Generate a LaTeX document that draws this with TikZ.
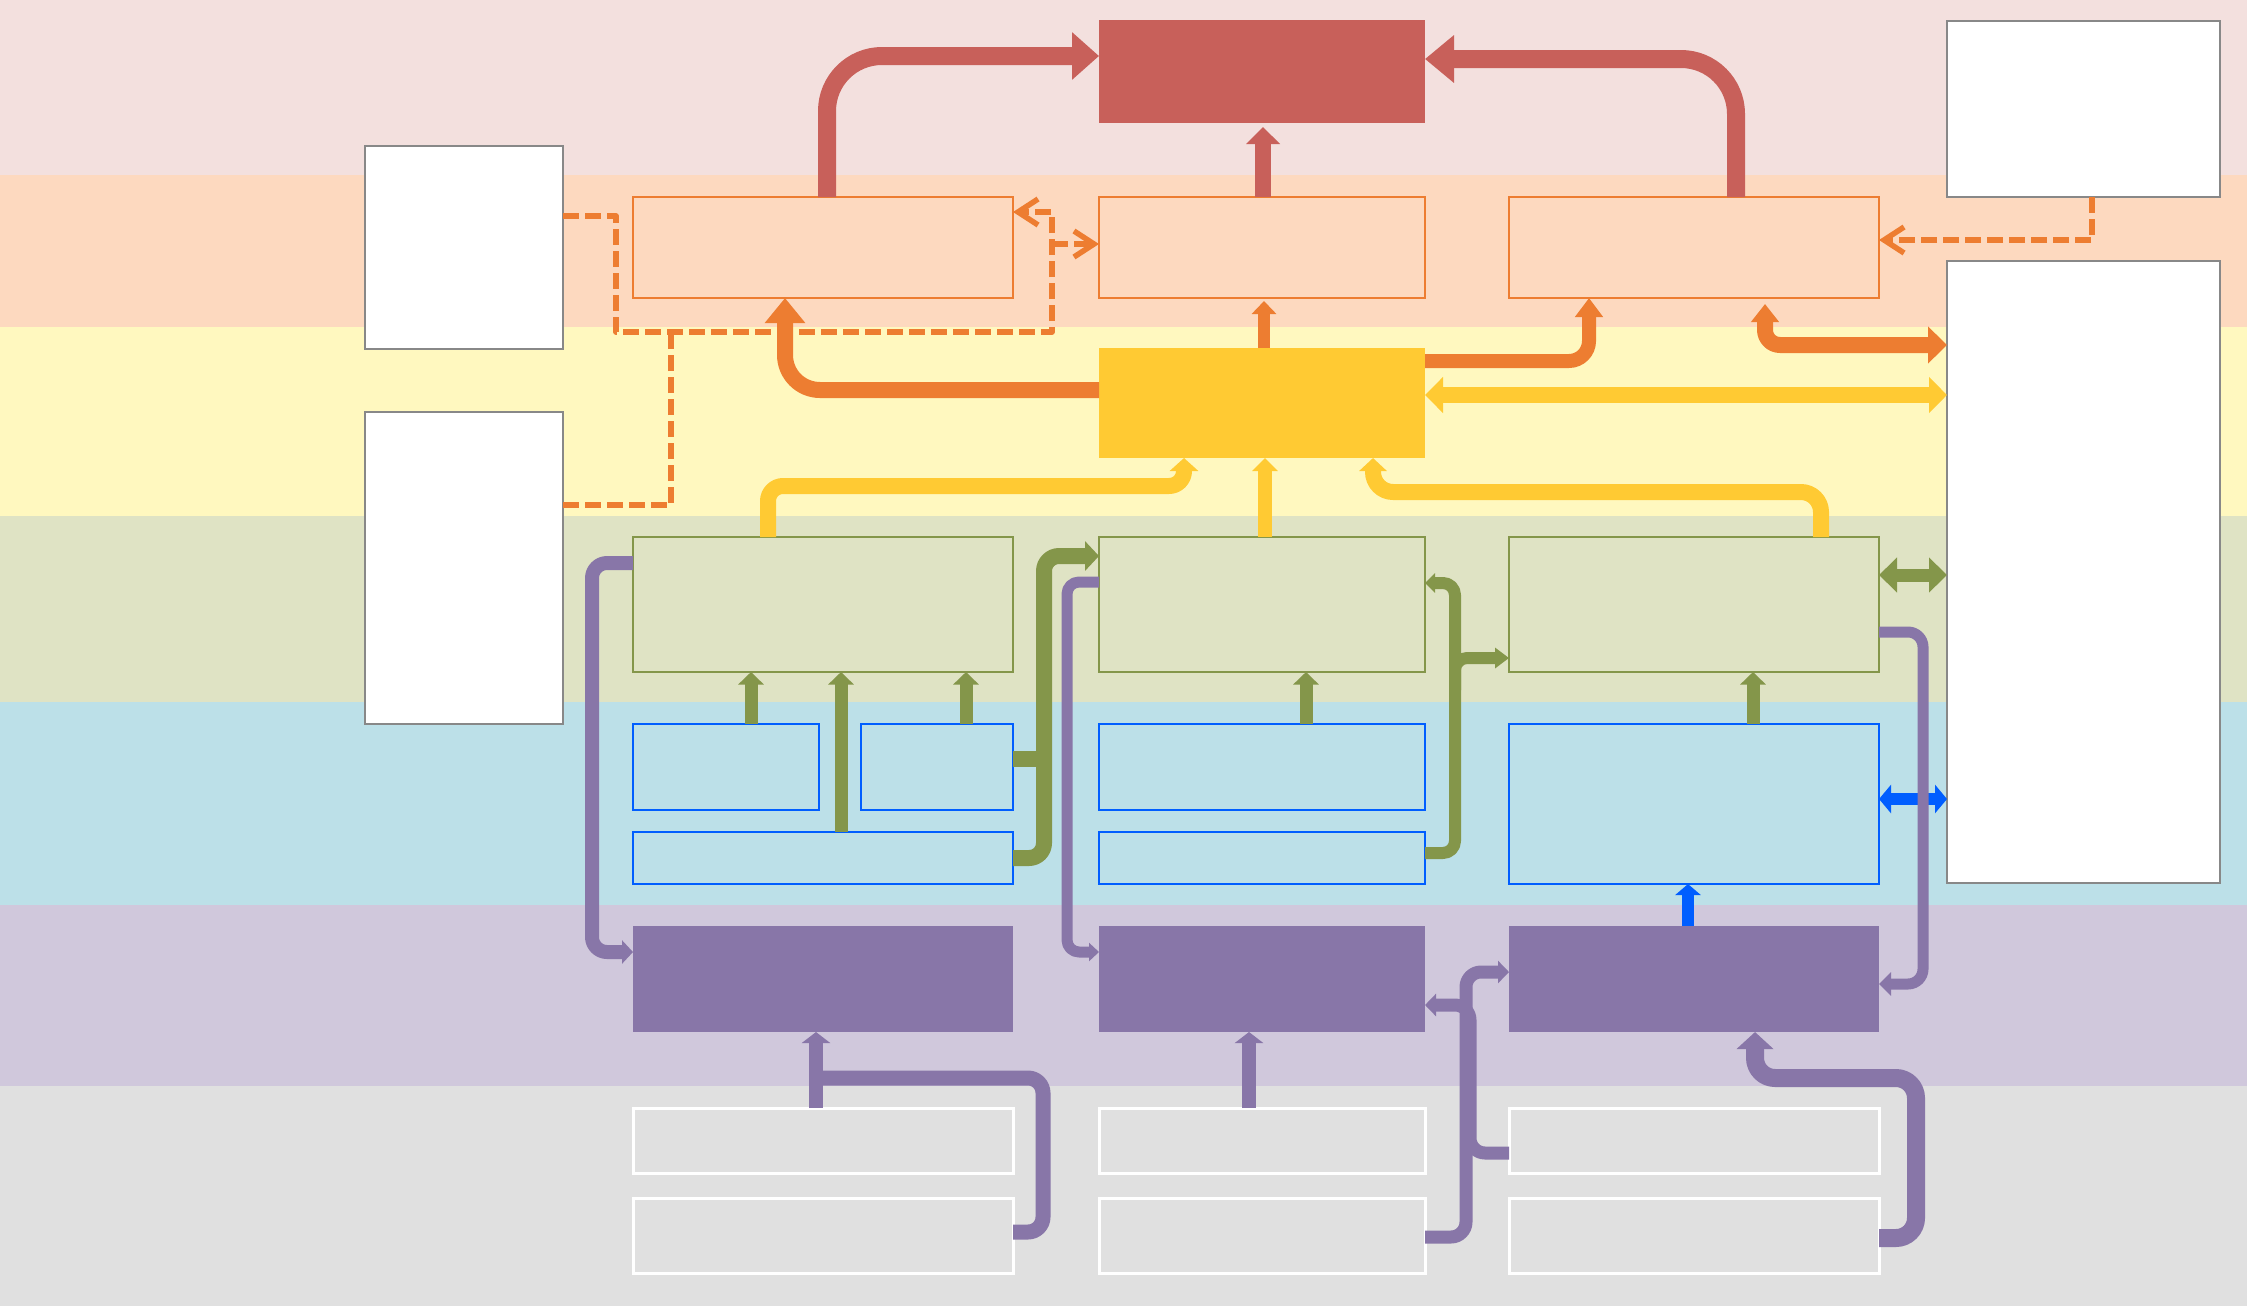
\documentclass[tikz,border=0pt]{standalone}
\usetikzlibrary{arrows.meta}
\definecolor{bPink}{HTML}{F3E0DE}
\definecolor{bPeach}{HTML}{FDD9BF}
\definecolor{bYellow}{HTML}{FFF8BF}
\definecolor{bGreen}{HTML}{DFE3C4}
\definecolor{bBlue}{HTML}{BCE0E8}
\definecolor{bPurple}{HTML}{D0C8DC}
\definecolor{bGray}{HTML}{E0E0E0}
\definecolor{cRed}{HTML}{C8605A}
\definecolor{cOrange}{HTML}{ED7D31}
\definecolor{cYellow}{HTML}{FFCA33}
\definecolor{cOlive}{HTML}{84964A}
\definecolor{cBlue}{HTML}{005EFF}
\definecolor{cPurple}{HTML}{8876A8}
\definecolor{cEdge}{HTML}{888888}
\newcommand\mkbox[6]{\node[#1,anchor=north west,minimum width=#5*0.1mm,minimum height=#6*0.1mm,inner sep=0pt,outer sep=0pt] (#2) at (#3,#4) {};}
\tikzset{
  whitebox/.style={fill=white,draw=cEdge,line width=0.25mm},
  redbox/.style={fill=cRed},
  peachbox/.style={fill=bPeach,draw=cOrange,line width=0.2mm},
  yellowbox/.style={fill=cYellow},
  greenbox/.style={fill=bGreen,draw=cOlive,line width=0.2mm},
  bluebox/.style={fill=bBlue,draw=cBlue,line width=0.25mm},
  purplebox/.style={fill=cPurple},
  graybox/.style={fill=bGray,draw=white,line width=0.3mm},
  conn/.style={line cap=butt,line join=round},
  dashconn/.style={conn,draw=cOrange,line width=0.55mm,dash pattern=on 1.6mm off 0.6mm},
  barb/.style={-{Straight Barb[length=2.0mm,width=2.6mm,line width=0.55mm]}},
}
\begin{document}
\begin{tikzpicture}[x=0.1mm,y=-0.1mm]
\useasboundingbox (0,0) rectangle (2247,1306);
% bands
\fill[bPink]   (0,0) rectangle (2247,175);
\fill[bPeach]  (0,175) rectangle (2247,327);
\fill[bYellow] (0,327) rectangle (2247,516);
\fill[bGreen]  (0,516) rectangle (2247,702);
\fill[bBlue]   (0,702) rectangle (2247,905);
\fill[bPurple] (0,905) rectangle (2247,1086);
\fill[bGray]   (0,1086) rectangle (2247,1306);
% boxes
\mkbox{redbox}{red}{1099}{20}{326}{103}
\mkbox{whitebox}{whiteA}{365}{146}{198}{203}
\mkbox{whitebox}{whiteB}{365}{412}{198}{312}
\mkbox{whitebox}{whiteTR}{1947}{21}{273}{176}
\mkbox{whitebox}{whiteR}{1947}{261}{273}{622}
\mkbox{peachbox}{peach1}{633}{197}{380}{101}
\mkbox{peachbox}{peach2}{1099}{197}{326}{101}
\mkbox{peachbox}{peach3}{1509}{197}{370}{101}
\mkbox{yellowbox}{yellow}{1099}{348}{326}{110}
\mkbox{greenbox}{green1}{633}{537}{380}{135}
\mkbox{greenbox}{green2}{1099}{537}{326}{135}
\mkbox{greenbox}{green3}{1509}{537}{370}{135}
\mkbox{bluebox}{blue1a}{633}{724}{186}{86}
\mkbox{bluebox}{blue1b}{861}{724}{152}{86}
\mkbox{bluebox}{blue1c}{633}{832}{380}{52}
\mkbox{bluebox}{blue2a}{1099}{724}{326}{86}
\mkbox{bluebox}{blue2b}{1099}{832}{326}{52}
\mkbox{bluebox}{blue3}{1509}{724}{370}{160}
\mkbox{purplebox}{purple1}{633}{926}{380}{106}
\mkbox{purplebox}{purple2}{1099}{926}{326}{106}
\mkbox{purplebox}{purple3}{1509}{926}{370}{106}
\mkbox{graybox}{gray1a}{633}{1108}{380}{65}
\mkbox{graybox}{gray1b}{633}{1198}{380}{75}
\mkbox{graybox}{gray2a}{1099}{1108}{326}{65}
\mkbox{graybox}{gray2b}{1099}{1198}{326}{75}
\mkbox{graybox}{gray3a}{1509}{1108}{370}{65}
\mkbox{graybox}{gray3b}{1509}{1198}{370}{75}
% red connectors
\draw[conn,cRed,line width=1.8mm,rounded corners=5.5mm,-{Triangle[length=2.7mm,width=4.6mm]}]
  (827,0 |- peach1.north) -- (827,56) -- (red.west |- 0,56);
\draw[conn,cRed,line width=1.8mm,rounded corners=5.5mm,-{Triangle[length=2.9mm,width=4.6mm]}]
  (1736,0 |- peach3.north) -- (1736,59) -- (red.east |- 0,59);
\draw[conn,cRed,line width=1.6mm,-{Triangle[length=1.7mm,width=3.3mm]}]
  (1263,0 |- peach2.north) -- (1263,127);
% orange solid connectors
\draw[conn,cOrange,line width=1.6mm,rounded corners=3.5mm,-{Triangle[length=2.5mm,width=3.9mm]}]
  (yellow.west |- 0,390) -- (785,390) -- (785,0 |- peach1.south);
\draw[conn,cOrange,line width=1.2mm,-{Triangle[length=1.3mm,width=2.4mm]}]
  (1264,0 |- yellow.north) -- (1264,301);
\draw[conn,cOrange,line width=1.4mm,rounded corners=2mm,-{Triangle[length=1.9mm,width=2.7mm]}]
  (yellow.east |- 0,361) -- (1589,361) -- (1589,0 |- peach3.south);
\coordinate (o4s) at (1765,304);
\draw[conn,cOrange,line width=1.6mm,rounded corners=1.5mm,{Triangle[length=1.8mm,width=2.7mm]}-{Triangle[length=1.9mm,width=3.6mm]}]
  (o4s) -- (1765,345) -- (whiteR.west |- 0,345);
% orange dashed connectors
\draw[dashconn,barb] (whiteA.east |- 0,216) -- (616,216) -- (616,332) -- (1052,332) -- (1052,212) -- (peach1.east |- 0,212);
\coordinate (d2s) at (1052,244);
\draw[dashconn,barb] (d2s) -- (peach2.west |- 0,244);
\coordinate (d3e) at (671,332);
\draw[dashconn] (whiteB.east |- 0,505) -- (671,505) -- (d3e);
\draw[dashconn,barb] (2092,0 |- whiteTR.south) -- (2092,240) -- (peach3.east |- 0,240);
% yellow connectors
\draw[conn,cYellow,line width=1.6mm,rounded corners=1.5mm,-{Triangle[length=1.3mm,width=2.8mm]}]
  (768,0 |- green1.north) -- (768,486) -- (1184,486) -- (1184,0 |- yellow.south);
\draw[conn,cYellow,line width=1.4mm,-{Triangle[length=1.3mm,width=2.5mm]}]
  (1265,0 |- green2.north) -- (1265,0 |- yellow.south);
\draw[conn,cYellow,line width=1.6mm,rounded corners=2mm,-{Triangle[length=1.3mm,width=2.7mm]}]
  (1821,0 |- green3.north) -- (1821,492) -- (1373,492) -- (1373,0 |- yellow.south);
\draw[conn,cYellow,line width=1.6mm,{Triangle[length=1.8mm,width=3.5mm]}-{Triangle[length=1.8mm,width=3.5mm]}]
  (yellow.east |- 0,395) -- (whiteR.west |- 0,395);
% olive connectors
\tikzset{gup/.style={conn,cOlive,line width=1.3mm,-{Triangle[length=1.25mm,width=2.5mm]}}}
\draw[gup] (751,0 |- blue1a.north) -- (751,0 |- green1.south);
\draw[gup] (841,0 |- blue1c.north) -- (841,0 |- green1.south);
\draw[gup] (966,0 |- blue1b.north) -- (966,0 |- green1.south);
\draw[gup] (1306,0 |- blue2a.north) -- (1306,0 |- green2.south);
\draw[gup] (1753,0 |- blue3.north) -- (1753,0 |- green3.south);
\draw[conn,cOlive,line width=1.6mm,rounded corners=1.5mm,-{Triangle[length=1.4mm,width=2.9mm]}]
  (blue1c.east |- 0,858) -- (1044,858) -- (1044,556) -- (green2.west |- 0,556);
\coordinate (g5e) at (1044,759);
\draw[conn,cOlive,line width=1.6mm] (blue1b.east |- 0,759) -- (g5e);
\draw[conn,cOlive,line width=1.2mm,rounded corners=1.2mm,-{Triangle[length=1.0mm,width=1.9mm]}]
  (blue2b.east |- 0,853) -- (1455,853) -- (1455,583) -- (green2.east |- 0,583);
\coordinate (g7s) at (1455,690);
\draw[conn,cOlive,line width=1.2mm,rounded corners=1.2mm,-{Triangle[length=1.4mm,width=2.0mm]}]
  (g7s) -- (1455,658) -- (green3.west |- 0,658);
\draw[conn,cOlive,line width=1.3mm,{Triangle[length=1.8mm,width=3.4mm]}-{Triangle[length=1.8mm,width=3.4mm]}]
  (green3.east |- 0,575) -- (whiteR.west |- 0,575);
% blue connectors
\draw[conn,cBlue,line width=1.2mm,{Triangle[length=1.2mm,width=2.8mm]}-{Triangle[length=1.2mm,width=2.8mm]}]
  (blue3.east |- 0,799) -- (whiteR.west |- 0,799);
\draw[conn,cBlue,line width=1.2mm,-{Triangle[length=1.1mm,width=2.5mm]}]
  (1688,0 |- purple3.north) -- (1688,0 |- blue3.south);
% purple connectors
\draw[conn,cPurple,line width=1.4mm,rounded corners=1.5mm,-{Triangle[length=1.1mm,width=2.3mm]}]
  (green1.west |- 0,563) -- (592,563) -- (592,952) -- (purple1.west |- 0,952);
\draw[conn,cPurple,line width=1.1mm,rounded corners=1.2mm,-{Triangle[length=1.0mm,width=1.8mm]}]
  (green2.west |- 0,582) -- (1067,582) -- (1067,952) -- (purple2.west |- 0,952);
\draw[conn,cPurple,line width=1.1mm,rounded corners=1.5mm,-{Triangle[length=1.2mm,width=2.3mm]}]
  (green3.east |- 0,632) -- (1923,632) -- (1923,984) -- (purple3.east |- 0,984);
\draw[conn,cPurple,line width=1.4mm,-{Triangle[length=1.1mm,width=2.8mm]}]
  (816,0 |- gray1a.north) -- (816,0 |- purple1.south);
\coordinate (p5e) at (816,1078);
\draw[conn,cPurple,line width=1.5mm,rounded corners=1.5mm]
  (gray1b.east |- 0,1232) -- (1043,1232) -- (1043,1078) -- (p5e);
\draw[conn,cPurple,line width=1.4mm,-{Triangle[length=1.1mm,width=2.8mm]}]
  (1249,0 |- gray2a.north) -- (1249,0 |- purple2.south);
\draw[conn,cPurple,line width=1.3mm,rounded corners=1.5mm,-{Triangle[length=1.1mm,width=2.2mm]}]
  (gray2b.east |- 0,1237) -- (1466,1237) -- (1466,972) -- (purple3.west |- 0,972);
\draw[conn,cPurple,line width=1.3mm,rounded corners=1.5mm,-{Triangle[length=1.1mm,width=2.2mm]}]
  (gray3a.west |- 0,1153) -- (1470,1153) -- (1470,1005) -- (purple2.east |- 0,1005);
\draw[conn,cPurple,line width=1.8mm,rounded corners=2mm,-{Triangle[length=1.7mm,width=3.6mm]}]
  (gray3b.east |- 0,1238) -- (1916,1238) -- (1916,1078) -- (1755,1078) -- (1755,0 |- purple3.south);
\end{tikzpicture}
\end{document}
